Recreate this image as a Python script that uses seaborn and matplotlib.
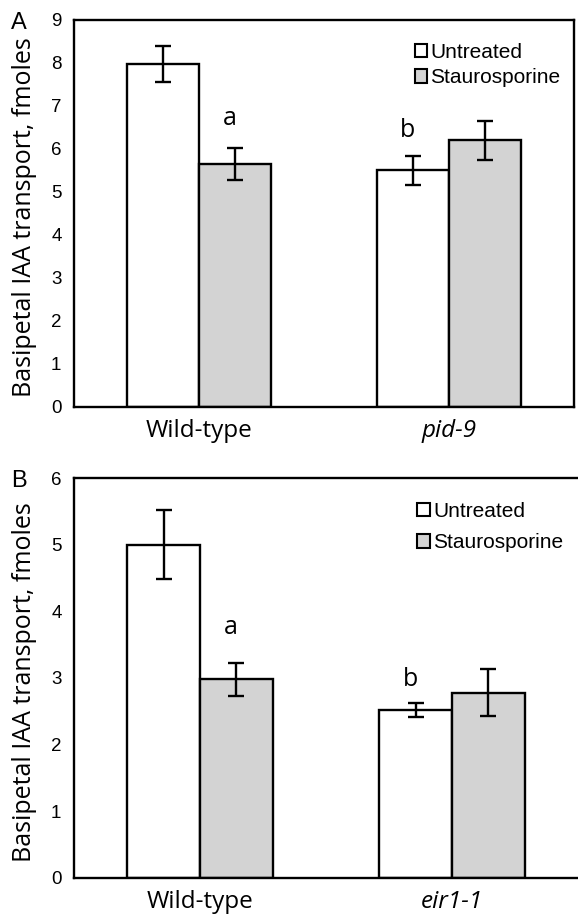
import pandas as pd
import matplotlib.pyplot as plt
import seaborn as sns
from matplotlib.patches import Patch

# panel A
genotypes_a = ["Wild-type", "pid-9"]
untreated_a = [7.97, 5.50]
untreated_err_a = [0.42, 0.33]
stauro_a = [5.65, 6.20]
stauro_err_a = [0.37, 0.46]

# panel B
genotypes_b = ["Wild-type", "eir1-1"]
untreated_b = [5.00, 2.52]
untreated_err_b = [0.52, 0.10]
stauro_b = [2.98, 2.78]
stauro_err_b = [0.25, 0.35]

treatments = ["Untreated", "Staurosporine"]
yticks_a = list(range(0, 10))
yticks_b = list(range(0, 7))

# significance letters: (genotype index, treatment index, y)
letters_a = [("a", 0, 1, 6.70), ("b", 1, 0, 6.42)]
letters_b = [("a", 0, 1, 3.76), ("b", 1, 0, 2.97)]

colors = ["white", "#d3d3d3"]
LW = 1.7
TICKFONT = "Liberation Sans"
LABELFONT = "Open Sans"


def make_frame(genos, unt, stau):
    rows = []
    for g, u, s in zip(genos, unt, stau):
        rows.append({"genotype": g, "treatment": treatments[0], "value": u})
        rows.append({"genotype": g, "treatment": treatments[1], "value": s})
    return pd.DataFrame(rows)


def draw_panel(ax, genos, unt, unt_err, stau, stau_err, yticks, letters,
               panel, legend_y, legend_spacing):
    df = make_frame(genos, unt, stau)
    sns.barplot(data=df, x="genotype", y="value", hue="treatment",
                order=genos, hue_order=treatments, palette=colors,
                edgecolor="black", linewidth=LW, width=0.576, gap=0,
                errorbar=None, legend=False, ax=ax)
    errs = [unt_err, stau_err]
    centers = {}
    bar_conts = list(ax.containers)
    for i, cont in enumerate(bar_conts):
        for j, p in enumerate(cont.patches):
            cx = p.get_x() + p.get_width() / 2
            centers[(j, i)] = cx
            ax.errorbar(cx, p.get_height(), yerr=errs[i][j], color="black",
                        elinewidth=1.7, capsize=5.5, capthick=1.7, zorder=5)
    for txt, gi, ti, y in letters:
        ax.text(centers[(gi, ti)] - 0.02, y, txt, ha="center", va="center",
                fontsize=18, family=LABELFONT)

    ax.set_xlim(-0.5, 1.5)
    ax.set_ylim(0, yticks[-1])
    ax.set_yticks(yticks)
    ax.set_yticklabels([str(t) for t in yticks], family=TICKFONT, fontsize=13.5)
    ax.set_xticks([0, 1])
    ax.set_xticklabels(genos, family=LABELFONT, fontsize=17.5)
    ax.get_xticklabels()[1].set_style("italic")
    ax.set_xticks([-0.5, 0.5, 1.5], minor=True)
    ax.tick_params(axis="x", which="major", length=0, pad=9)
    ax.tick_params(axis="x", which="minor", length=6, width=1.3, direction="out")
    ax.tick_params(axis="y", length=5, width=1.3, direction="out", pad=4)
    ax.set_xlabel("")
    ax.set_ylabel("Basipetal IAA transport, fmoles", family=LABELFONT,
                  fontsize=18, va="center")
    ax.yaxis.set_label_coords(-0.098, 0.49)
    for s in ax.spines.values():
        s.set_visible(True)
        s.set_linewidth(LW)
        s.set_color("black")
    ax.grid(False)

    handles = [Patch(facecolor=c, edgecolor="black", linewidth=1.5) for c in colors]
    ax.legend(handles, treatments, loc="upper left", bbox_to_anchor=(0.665, legend_y),
              frameon=False, handlelength=0.6, handleheight=0.6,
              handletextpad=0.15, labelspacing=legend_spacing,
              prop={"family": TICKFONT, "size": 15}, borderaxespad=0)
    ax.text(-0.11, 0.992, panel, transform=ax.transAxes, ha="center",
            va="center", fontsize=17, family=TICKFONT)


sns.set_theme(style="white")
plt.rcParams["font.family"] = ["Liberation Sans", "DejaVu Sans"]
plt.rcParams["text.color"] = "black"
plt.rcParams["axes.labelcolor"] = "black"
plt.rcParams["xtick.color"] = "black"
plt.rcParams["ytick.color"] = "black"

fig = plt.figure(figsize=(5.78, 9.14), dpi=100)
ax_a = fig.add_axes([74 / 578, 1 - 407 / 914, 500 / 578, 387 / 914])
ax_b = fig.add_axes([74 / 578, 1 - 878 / 914, 504 / 578, 400 / 914])

draw_panel(ax_a, genotypes_a, untreated_a, untreated_err_a, stauro_a,
           stauro_err_a, yticks_a, letters_a, "A", 0.962, 0.3)
draw_panel(ax_b, genotypes_b, untreated_b, untreated_err_b, stauro_b,
           stauro_err_b, yticks_b, letters_b, "B", 0.962, 0.62)
ax_b.spines["right"].set_visible(False)

fig.savefig("out.png", dpi=100)
